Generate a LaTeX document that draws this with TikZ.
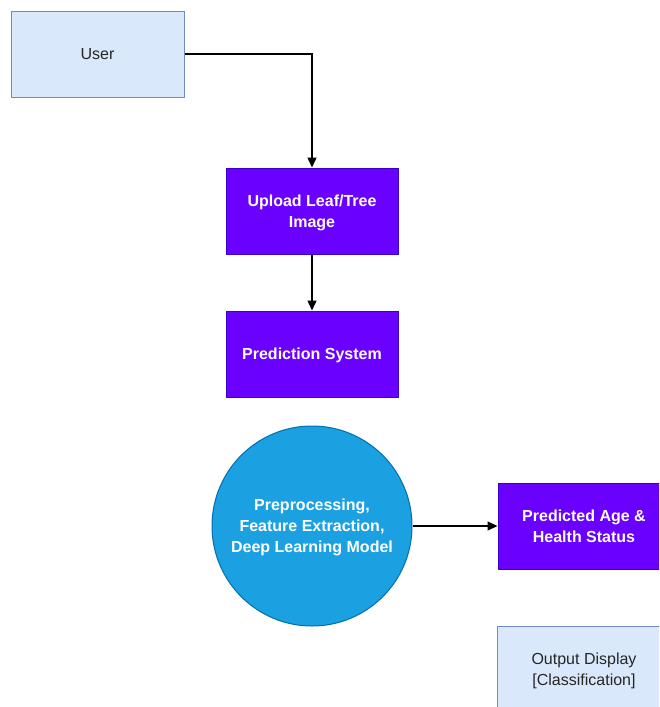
\documentclass[tikz,border=0pt]{standalone}
\usepackage{fontspec}
\setmainfont{Liberation Sans}
\usetikzlibrary{arrows.meta}
\definecolor{lightfill}{HTML}{DAE8FC}
\definecolor{lightdraw}{HTML}{6C8EBF}
\definecolor{purfill}{HTML}{6A00FF}
\definecolor{purdraw}{HTML}{3700CC}
\definecolor{bluefill}{HTML}{1BA1E2}
\definecolor{bluedraw}{HTML}{006EAF}
\tikzset{
  lightbox/.style={draw=lightdraw, fill=lightfill, line width=1pt, minimum width=173pt, minimum height=86pt, inner sep=0pt, text depth=-5pt, align=center, font=\fontsize{16}{21}\selectfont, text=black!85},
  purbox/.style={draw=purdraw, fill=purfill, line width=1pt, minimum width=172pt, minimum height=86pt, inner sep=0pt, text depth=-5pt, align=center, text=white, font=\bfseries\fontsize{16}{21}\selectfont},
  circ/.style={draw=bluedraw, fill=bluefill, circle, line width=1pt, minimum size=200pt, inner sep=0pt, text depth=-5pt, align=center, text=white, font=\bfseries\fontsize{16}{21}\selectfont},
  conn/.style={draw=black, line width=1.4pt, -{Triangle[length=10pt,width=9pt]}}
}
\begin{document}
\begin{tikzpicture}[x=1pt,y=-1pt]
\useasboundingbox (0,0) rectangle (659,707);
\clip (0,0) rectangle (659,707);
\node[lightbox] (user) at (97.5,54) {User};
\node[purbox] (upload) at (312,211) {Upload Leaf/Tree\\Image};
\node[purbox] (pred) at (312,354) {Prediction System};
\node[circ] (proc) at (312,526) {Preprocessing,\\Feature Extraction,\\Deep Learning Model};
\node[purbox] (age) at (584,526) {Predicted Age \&\\Health Status};
\node[lightbox] (out) at (584,669) {Output Display\\{[Classification]}};
\draw[conn] (user.east) -| (upload.north);
\draw[conn] (upload.south) -- (pred.north);
\draw[conn] (proc.east) -- (age.west);
\end{tikzpicture}
\end{document}
